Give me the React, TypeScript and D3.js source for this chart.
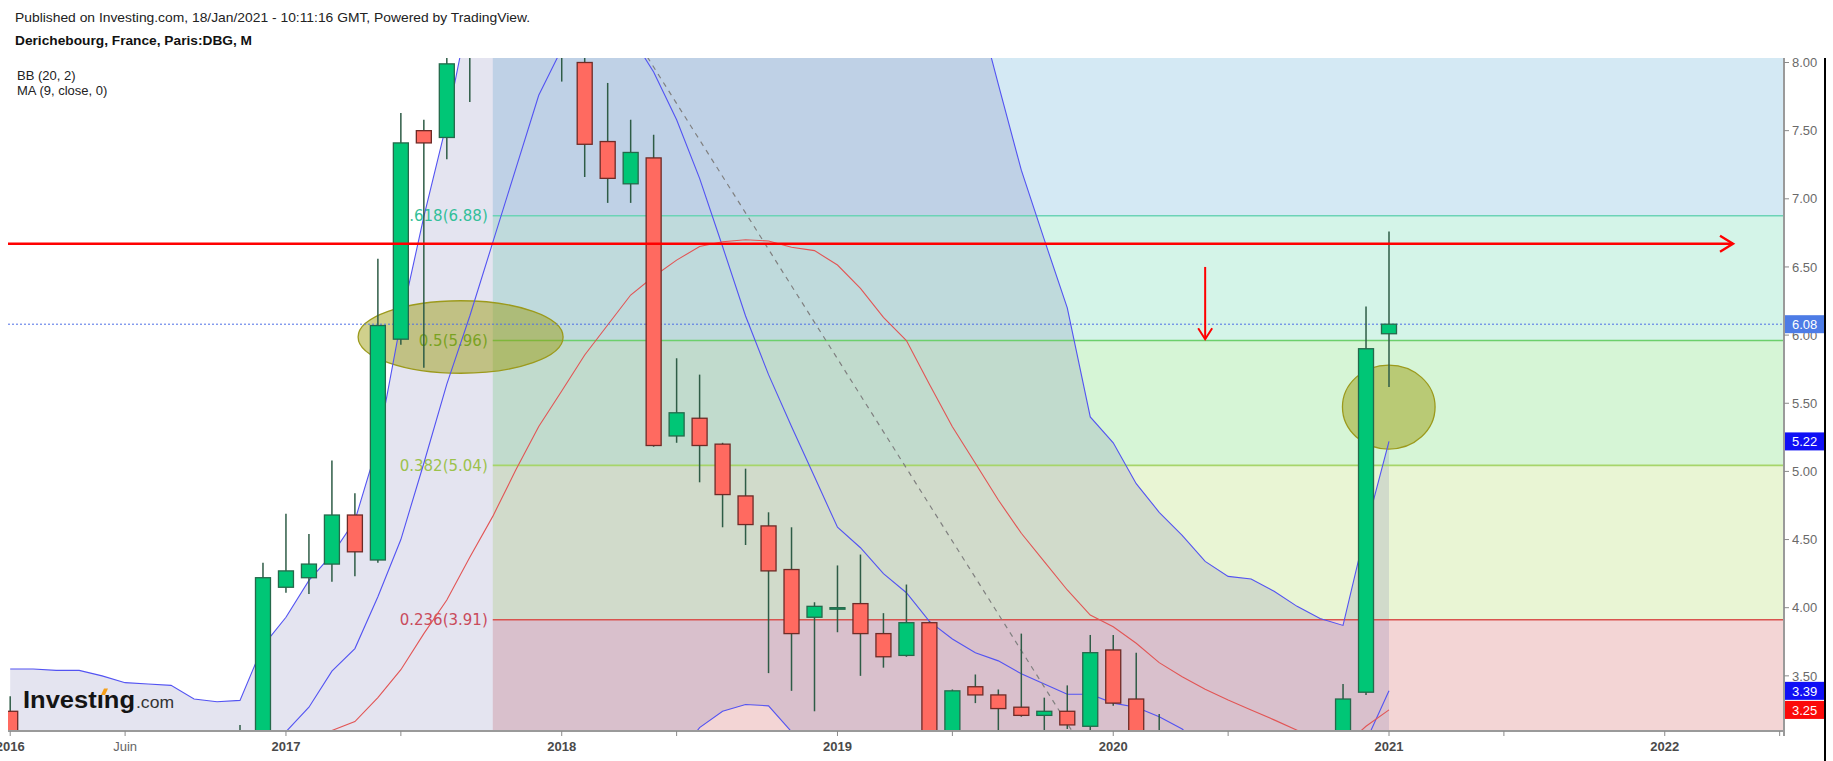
import React, { useEffect } from 'react';
import * as d3 from 'd3';

// ---------- DATA (monthly, index 0 = Jan 2016 ... 60 = Jan 2021) ----------
const opens = [3.24, 2.95, 2.85, 2.90, 2.95, 2.85, 2.75, 2.80, 2.85, 2.80, 2.82, 2.90,
  4.15, 4.22, 4.32, 4.68, 4.35, 5.97, 7.50, 7.45, 8.10, 8.87, 8.95, 9.20,
  9.52, 8.00, 7.42, 7.11, 7.30, 5.26, 5.39, 5.20, 4.82, 4.60, 4.28, 3.93,
  3.99, 4.03, 3.81, 3.65, 3.89, 2.95, 3.42, 3.36, 3.27, 3.21, 3.24, 3.13,
  3.69, 3.33, 2.85, 2.30, 2.45, 2.35, 2.50, 2.45, 2.55, 2.50, 2.60, 3.38, 6.01];
const highs = [3.35, 3.02, 3.00, 3.05, 3.02, 2.95, 2.90, 2.92, 2.95, 2.95, 3.14, 4.33,
  4.69, 4.54, 5.08, 4.84, 6.56, 7.63, 7.58, 8.20, 9.10, 9.84, 9.60, 9.75,
  9.70, 8.15, 7.85, 7.58, 7.47, 5.83, 5.71, 5.21, 5.02, 4.70, 4.59, 4.04,
  4.31, 4.39, 3.96, 4.17, 3.90, 3.40, 3.51, 3.40, 3.81, 3.34, 3.43, 3.80,
  3.80, 3.67, 3.22, 2.60, 2.55, 2.70, 2.60, 2.65, 2.62, 2.70, 3.44, 6.21, 6.76];
const lows = [2.85, 2.70, 2.75, 2.80, 2.78, 2.60, 2.70, 2.72, 2.75, 2.72, 2.75, 2.85,
  4.11, 4.10, 4.19, 4.23, 4.33, 5.93, 5.76, 7.29, 7.71, 8.60, 8.70, 9.00,
  7.86, 7.16, 6.97, 6.97, 5.18, 5.21, 4.92, 4.59, 4.46, 3.52, 3.39, 3.24,
  3.82, 3.50, 3.56, 3.64, 2.90, 2.90, 3.30, 3.00, 3.20, 3.05, 3.11, 3.08,
  3.28, 2.80, 2.08, 2.20, 2.25, 2.30, 2.35, 2.40, 2.40, 2.45, 2.55, 3.36, 5.62];
const closes = [2.95, 2.85, 2.90, 2.95, 2.85, 2.75, 2.80, 2.85, 2.80, 2.82, 2.90, 4.22,
  4.27, 4.32, 4.68, 4.41, 6.07, 7.41, 7.41, 7.99, 8.87, 8.95, 9.20, 9.52,
  8.10, 7.40, 7.15, 7.34, 5.19, 5.43, 5.19, 4.83, 4.61, 4.27, 3.81, 4.01,
  4.00, 3.81, 3.64, 3.89, 2.95, 3.39, 3.36, 3.26, 3.21, 3.24, 3.14, 3.67,
  3.30, 2.85, 2.30, 2.45, 2.35, 2.50, 2.45, 2.55, 2.50, 2.60, 3.33, 5.90, 6.08];

// Bollinger Bands (20, 2) and MA (9)
const bbUpper = [3.55, 3.55, 3.54, 3.54, 3.50, 3.45, 3.44, 3.43, 3.33, 3.31, 3.32, 3.72,
  3.93, 4.20, 4.39, 4.64, 5.20, 6.10, 6.87, 7.56, 8.40, 9.20, 9.90, 10.45,
  10.80, 11.00, 11.10, 11.15, 11.20, 11.15, 11.05, 10.90, 10.75, 10.55, 10.35, 10.15,
  9.95, 9.75, 9.55, 9.35, 9.10, 8.85, 8.48, 7.84, 7.21, 6.70, 6.20, 5.40,
  5.21, 4.91, 4.70, 4.53, 4.34, 4.23, 4.21, 4.12, 4.01, 3.92, 3.87, 4.58, 5.22];
const bbLower = [2.35, 2.30, 2.30, 2.32, 2.30, 2.25, 2.20, 2.20, 2.25, 2.25, 2.28, 2.10,
  1.85, 1.70, 1.60, 1.55, 1.45, 1.00, 0.75, 0.55, 0.35, 0.20, 0.10, 0.05,
  0.20, 0.70, 1.50, 1.90, 2.30, 2.90, 3.12, 3.24, 3.29, 3.28, 3.09, 2.75,
  2.45, 2.15, 1.90, 1.70, 1.55, 1.40, 1.40, 1.45, 1.55, 1.70, 1.85, 2.05,
  2.20, 2.30, 2.30, 2.25, 2.25, 2.20, 2.10, 2.05, 2.00, 1.95, 1.90, 1.60, 1.28];
const bbBasis = [2.95, 2.95, 2.94, 2.93, 2.92, 2.92, 2.90, 2.90, 2.88, 2.88, 2.88, 2.93,
  2.96, 2.99, 3.10, 3.165, 3.34, 3.545, 3.81, 4.056, 4.37, 4.67, 5.01, 5.33,
  5.59, 5.854, 6.074, 6.294, 6.43, 6.55, 6.65, 6.685, 6.70, 6.69, 6.645, 6.62,
  6.514, 6.343, 6.13, 5.96, 5.64, 5.328, 5.06, 4.79, 4.546, 4.338, 4.13, 3.946,
  3.86, 3.739, 3.597, 3.494, 3.401, 3.323, 3.25, 3.177, 3.10, 3.02, 2.98, 3.13, 3.25];
const ma9 = [2.95, 2.93, 2.92, 2.90, 2.90, 2.88, 2.86, 2.85, 2.85, 2.84, 2.85, 2.98,
  3.09, 3.27, 3.535, 3.70, 4.08, 4.50, 5.06, 5.64, 6.14, 6.68, 7.22, 7.76,
  8.10, 8.30, 8.35, 8.20, 7.93, 7.58, 7.15, 6.65, 6.14, 5.71, 5.33, 4.96,
  4.59, 4.44, 4.25, 4.11, 3.90, 3.77, 3.67, 3.61, 3.515, 3.44, 3.365, 3.365,
  3.30, 3.27, 3.20, 3.11, 2.95, 2.80, 2.65, 2.55, 2.50, 2.45, 2.50, 3.02, 3.39];

// Fibonacci retracement drawn from the high to the low
const fibHigh = { i: 21, p: 9.84 };
const fibLow = { i: 50, p: 2.08 };
const fibRatios = [0.236, 0.382, 0.5, 0.618];
const fibRatioText = ['0.236', '0.382', '0.5', '0.618'];
const fibLineColors = ['#d9534f', '#a6d56a', '#6ccf6c', '#6cd3b6'];
const fibTextColors = ['#c94b5c', '#9cc24c', '#62ab3e', '#33bf99'];
const fibBandFrom = [0, 0.236, 0.382, 0.5, 0.618];
const fibBandTo = [0.236, 0.382, 0.5, 0.618, 0.786];
const fibBandColors = ['#f3d5d5', '#e9f5d4', '#d6f5d6', '#d4f4e8', '#d4e9f4'];

// Axis ticks
const xTickIdx = [0, 5, 12, 17, 24, 29, 36, 41, 48, 53, 60, 65, 72, 77];
const xTickLabels = ['2016', 'Juin', '2017', '', '2018', '', '2019', '', '2020', '', '2021', '', '2022', ''];
const yTicks = [3.5, 4.0, 4.5, 5.0, 5.5, 6.0, 6.5, 7.0, 7.5, 8.0];

// Annotations (month index, price)
const hArrow = { i0: -0.3, i1: 74.97, p: 6.67 };
const vArrow = { i: 52, p0: 6.50, p1: 5.97 };
const ellipseCx = [19.6, 59.99];
const ellipseCy = [5.986, 5.472];
const ellipseRx = [4.46, 2.015];
const ellipseRy = [0.266, 0.308];

export default function App() {
  useEffect(() => {
    document.body.style.margin = '0';
    document.body.style.overflow = 'hidden';
  }, []);

  const W = 1833, H = 761;
  const plot = { l: 8, t: 58, r: 1784, b: 731 };
  const x = d3.scaleLinear().domain([0, 60]).range([10.2, 1389]);
  const y = d3.scaleLinear().domain([3.5, 8]).range([675.85, 62.5]);
  const idx = d3.range(closes.length);
  const dx = x(1) - x(0);

  const bbArea = d3.area<number>().x(i => x(i)).y0(i => y(bbLower[i])).y1(i => y(bbUpper[i]))(idx) || '';
  const mk = (arr: number[]) => d3.line<number>().x(i => x(i)).y(i => y(arr[i]))(idx) || '';

  const fibRange = fibHigh.p - fibLow.p;
  const fibPrice = (r: number) => fibLow.p + r * fibRange;
  const fibLeft = x(fibHigh.i);

  const font = '"Liberation Sans", Arial, sans-serif';
  const bodyW = 15;

  const last = closes.length - 1;
  const priceTags = [
    { v: closes[last], bg: '#4d7ce6' },
    { v: bbUpper[last], bg: '#1010f5' },
    { v: ma9[last], bg: '#1010f5' },
    { v: bbBasis[last], bg: '#fb0a0a' },
  ];

  const tipX = x(hArrow.i1), tipY = y(hArrow.p);
  const vx = x(vArrow.i), vy0 = y(vArrow.p0), vy1 = y(vArrow.p1);

  return (
    <svg width={W} height={H} style={{ position: 'absolute', left: 0, top: 0, display: 'block', background: '#fff' }}>
      <defs>
        <clipPath id="plotClip">
          <rect x={plot.l} y={plot.t} width={plot.r - plot.l} height={plot.b - plot.t} />
        </clipPath>
      </defs>

      {/* Headers */}
      <text x={15} y={22} fontFamily={font} fontSize={13} fill="#222" textLength={515} lengthAdjust="spacingAndGlyphs">
        Published on Investing.com, 18/Jan/2021 - 10:11:16 GMT, Powered by TradingView.
      </text>
      <text x={15} y={45} fontFamily={font} fontSize={13} fontWeight="bold" fill="#111" textLength={237} lengthAdjust="spacingAndGlyphs">
        Derichebourg, France, Paris:DBG, M
      </text>

      <g clipPath="url(#plotClip)">
        {/* Fib bands */}
        {fibBandFrom.map((r0, k) => {
          const yTop = y(fibPrice(fibBandTo[k]));
          const yBot = y(fibPrice(r0));
          return <rect key={'band' + k} x={fibLeft} y={yTop} width={plot.r - fibLeft} height={yBot - yTop} fill={fibBandColors[k]} />;
        })}
        {/* BB background */}
        <path d={bbArea} fill="rgba(75,75,155,0.15)" />
        {/* Fib lines */}
        {fibRatios.map((r, k) => (
          <line key={'fl' + k} x1={fibLeft} x2={plot.r} y1={y(fibPrice(r))} y2={y(fibPrice(r))} stroke={fibLineColors[k]} strokeWidth={1.6} />
        ))}
        {fibRatios.map((r, k) => (
          <text key={'ft' + k} x={fibLeft - 5} y={y(fibPrice(r))} dy="0.36em" textAnchor="end"
            fontFamily='"DejaVu Sans", Verdana, sans-serif' fontSize={15} fill={fibTextColors[k]}>
            {fibRatioText[k]}({fibPrice(r).toFixed(2)})
          </text>
        ))}
        {/* Ellipses */}
        {ellipseCx.map((c, k) => (
          <ellipse key={'el' + k} cx={x(c)} cy={y(ellipseCy[k])}
            rx={ellipseRx[k] * dx} ry={Math.abs(y(ellipseCy[k] + ellipseRy[k]) - y(ellipseCy[k]))}
            fill="rgba(150,150,0,0.45)" stroke="#9c9a1c" strokeWidth={1.3} />
        ))}
        {/* Indicator lines */}
        <path d={mk(bbUpper)} fill="none" stroke="#5353f2" strokeWidth={1.1} />
        <path d={mk(bbLower)} fill="none" stroke="#5353f2" strokeWidth={1.1} />
        <path d={mk(ma9)} fill="none" stroke="#5353f2" strokeWidth={1.1} />
        <path d={mk(bbBasis)} fill="none" stroke="#e25555" strokeWidth={1.1} />
        {/* Fib trend line */}
        <line x1={x(fibHigh.i)} y1={y(fibHigh.p)} x2={x(fibLow.i)} y2={y(fibLow.p)} stroke="#808080" strokeWidth={1.2} strokeDasharray="5,5" />
        {/* Last price line */}
        <line x1={plot.l} x2={plot.r} y1={y(closes[last])} y2={y(closes[last])} stroke="#4d6fe6" strokeWidth={1} strokeDasharray="2,2" />
        {/* Candles */}
        {idx.map(i => {
          const o = opens[i], c = closes[i];
          const up = c >= o;
          const yt = y(Math.max(o, c)), yb = y(Math.min(o, c));
          return (
            <g key={'c' + i}>
              <line x1={x(i)} x2={x(i)} y1={y(highs[i])} y2={y(lows[i])} stroke="#2e5c46" strokeWidth={1.5} />
              <rect x={x(i) - bodyW / 2} y={yt} width={bodyW} height={Math.max(1.5, yb - yt)}
                fill={up ? '#00c676' : '#ff6a60'} stroke={up ? '#25694b' : '#6d2b27'} strokeWidth={1.3} />
            </g>
          );
        })}
        {/* Red horizontal arrow */}
        <line x1={x(hArrow.i0)} x2={tipX} y1={tipY} y2={tipY} stroke="#ff0000" strokeWidth={2.6} />
        <polyline points={`${tipX - 13},${tipY - 8} ${tipX},${tipY} ${tipX - 13},${tipY + 8}`} fill="none" stroke="#ff0000" strokeWidth={2.4} />
        {/* Red vertical arrow */}
        <line x1={vx} x2={vx} y1={vy0} y2={vy1} stroke="#ff0000" strokeWidth={2} />
        <polyline points={`${vx - 7},${vy1 - 11} ${vx},${vy1} ${vx + 7},${vy1 - 11}`} fill="none" stroke="#ff0000" strokeWidth={2} />

        {/* Indicator legend */}
        <text x={17} y={80} fontFamily={font} fontSize={13} fill="#222">BB (20, 2)</text>
        <text x={17} y={95} fontFamily={font} fontSize={13} fill="#222">MA (9, close, 0)</text>

        {/* Investing.com logo */}
        <text x={23} y={708} fontFamily={font} fontSize={23} fontWeight="bold" fill="#141414" textLength={112} lengthAdjust="spacingAndGlyphs">Investıng</text>
        <polygon points="101,695 104,688.5 108,688.5 105,695" fill="#f5a01a" />
        <text x={136} y={708} fontFamily={font} fontSize={17} fill="#333" textLength={38} lengthAdjust="spacingAndGlyphs">.com</text>
      </g>

      {/* Axes */}
      <line x1={plot.l} x2={plot.r + 1} y1={plot.b} y2={plot.b} stroke="#9a9a9a" strokeWidth={2} />
      <line x1={plot.r} x2={plot.r} y1={plot.t} y2={plot.b + 5} stroke="#9a9a9a" strokeWidth={2} />
      {xTickIdx.map((t, k) => (
        <g key={'xt' + k}>
          <line x1={x(t)} x2={x(t)} y1={plot.b} y2={plot.b + 5} stroke="#8a8a8a" strokeWidth={1} />
          {xTickLabels[k] && (
            <text x={x(t)} y={751} textAnchor="middle" fontFamily={font} fontSize={13}
              fontWeight={xTickLabels[k] === 'Juin' ? 'normal' : 'bold'}
              fill={xTickLabels[k] === 'Juin' ? '#666' : '#4a4a4a'}>{xTickLabels[k]}</text>
          )}
        </g>
      ))}
      {yTicks.map((t, k) => (
        <g key={'yt' + k}>
          <line x1={plot.r} x2={plot.r + 5} y1={y(t)} y2={y(t)} stroke="#8a8a8a" strokeWidth={1} />
          <text x={1792} y={y(t)} dy="0.36em" fontFamily={font} fontSize={13} fill="#6a6a6a">{t.toFixed(2)}</text>
        </g>
      ))}
      {priceTags.map((p, k) => (
        <g key={'pt' + k}>
          <rect x={plot.r + 1} y={y(p.v) - 9} width={1825 - plot.r - 1} height={18} fill={p.bg} />
          <text x={1792} y={y(p.v)} dy="0.36em" fontFamily={font} fontSize={13} fill="#fff">{p.v.toFixed(2)}</text>
        </g>
      ))}
      <line x1={1825} x2={1825} y1={plot.t} y2={H} stroke="#000" strokeWidth={2} />
    </svg>
  );
}
